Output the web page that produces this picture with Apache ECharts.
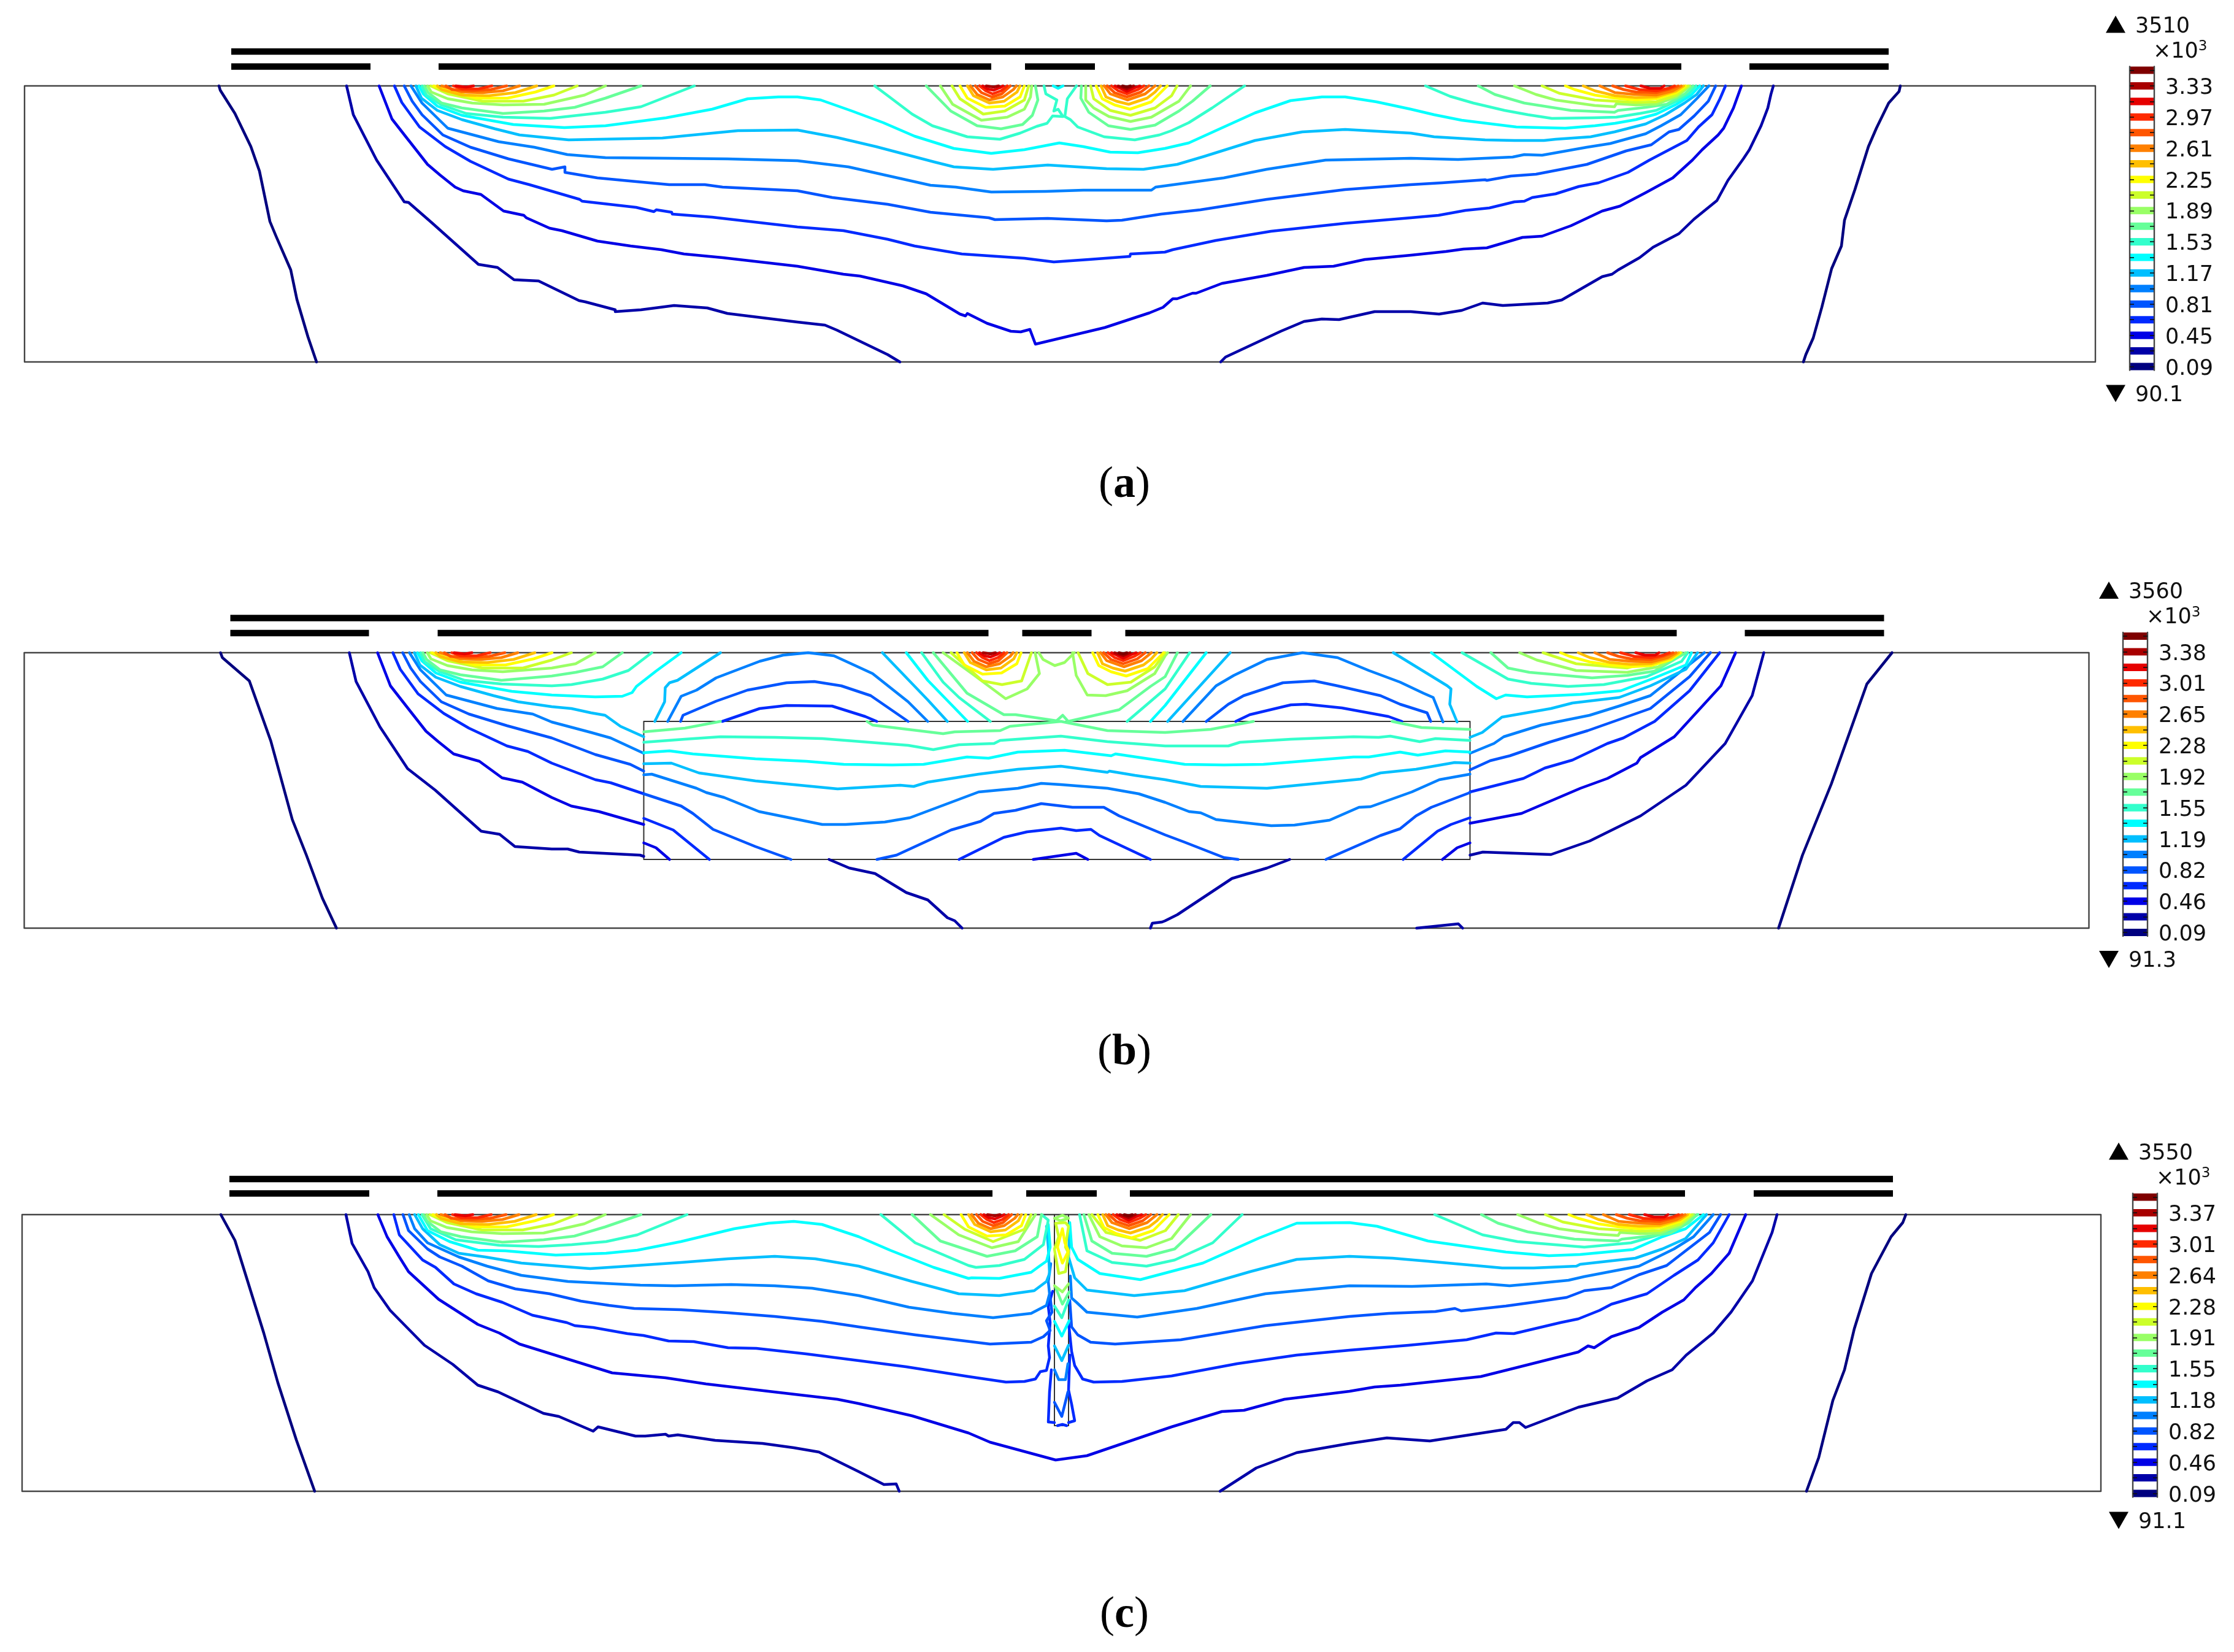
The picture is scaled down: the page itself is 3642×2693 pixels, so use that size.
<!DOCTYPE html>
<html>
<head>
<meta charset="utf-8">
<style>html,body{margin:0;background:#fff}#chart{width:3642px;height:2693px}</style>
<script src="https://cdn.jsdelivr.net/npm/echarts@6/dist/echarts.min.js"></script>
</head>
<body>
<div id="chart"></div>
<script>
// level 1 is the lowest contour (0.09), level 20 the highest
const levelColours = ['#00007f','#0000a8','#0000e6','#002aff','#0055ff','#0080ff','#00bfff','#00ffff','#33ffcc','#66ff99',
  '#99ff66','#ccff2a','#ffff00','#ffbf00','#ff8000','#ff5500','#ff2a00','#e60000','#a80000','#7f0000'];
const levels = [1,2,3,4,5,6,7,8,9,10,11,12,13,14,15,16,17,18,19,20];
const tickLevels = [1,3,5,7,9,11,13,15,17,19];
const ticksA = ['0.09','0.45','0.81','1.17','1.53','1.89','2.25','2.61','2.97','3.33'];
const ticksB = ['0.09','0.46','0.82','1.19','1.55','1.92','2.28','2.65','3.01','3.38'];
const ticksC = ['0.09','0.46','0.82','1.18','1.55','1.91','2.28','2.64','3.01','3.37'];

// electrodes: [x from, x to, depth]
const electrodesA = [[337,3039,-56],[337,564,-31.5],[675,1576,-31.5],[1631,1745,-31.5],[1800,2701,-31.5],[2812,3039,-31.5]];
const electrodesB = [[336,3032,-56.5],[336,562,-32],[674,1572,-32],[1627,1740,-32],[1795,2694,-32],[2805,3032,-32]];
const electrodesC = [[338,3050,-58],[338,566,-34.5],[677,1582,-34.5],[1637,1752,-34.5],[1806,2711,-34.5],[2823,3050,-34.5]];

// hot lobes under the electrode edges, same in all three panels: [level, x,depth,...]
const lobesHot = [
  [13,[667,0,690,8,737,20,787,20,833,10,863,0]],
  [14,[673,0,680,6,713,15,757,16,800,11,835,0]],
  [15,[680,0,713,10,747,11,780,8,807,0]],
  [16,[687,0,697,6,730,8,760,6,786,0]],
  [17,[699,0,713,5,740,5,762,0]],
  [18,[703,0,720,2,732,0]],
  [13,[1525,0,1537,20,1567,35,1598,33,1623,18,1630,0]],
  [14,[1537,0,1547,16,1573,28,1597,25,1618,10,1623,0]],
  [15,[1542,0,1553,14,1573,23,1595,18,1612,6,1617,0]],
  [16,[1550,0,1560,11,1577,18,1593,13,1607,0]],
  [17,[1557,0,1567,8,1578,13,1592,8,1602,0]],
  [18,[1562,0,1570,5,1580,7,1590,3,1595,0]],
  [19,[1568,0,1580,2,1588,0]],
  [13,[1747,0,1757,21,1777,31,1802,38,1837,26,1853,10,1863,0]],
  [14,[1755,0,1763,18,1780,25,1800,30,1830,20,1843,10,1852,0]],
  [15,[1760,0,1770,13,1798,23,1827,13,1843,0]],
  [16,[1765,0,1777,11,1797,18,1820,10,1833,0]],
  [17,[1772,0,1783,8,1797,13,1815,6,1825,0]],
  [18,[1778,0,1797,9,1810,3,1818,0]],
  [19,[1783,0,1797,5,1808,0]],
  [20,[1790,0,1797,2,1803,0]],
  [13,[2512,0,2527,6,2560,15,2593,20,2627,23,2660,21,2693,11,2708,0]],
  [14,[2541,0,2560,8,2593,16,2627,19,2660,18,2693,8,2705,0]],
  [15,[2568,0,2593,11,2627,14,2660,15,2687,8,2701,0]],
  [16,[2589,0,2607,6,2627,10,2660,11,2683,5,2696,0]],
  [17,[2610,0,2633,6,2660,8,2680,4,2690,0]],
  [18,[2635,0,2650,4,2667,4,2673,0]]
];
// outer side lobes, panels a and c
const lobesSide = [
  [10,[652,0,658,11,680,28,713,36,780,45,847,41,897,35,947,20,1005,0]],
  [11,[657,0,663,10,690,21,730,28,780,31,847,30,913,15,947,0]],
  [12,[662,0,690,13,747,25,813,25,863,15,901,0]],
  [10,[2370,0,2397,14,2445,28,2521,40,2592,43,2598,40,2643,35,2677,30,2707,13,2720,0]],
  [11,[2429,0,2464,14,2496,23,2560,32,2592,34,2595,29,2627,31,2660,30,2693,18,2715,0]],
  [12,[2474,0,2502,12,2560,23,2592,25,2627,27,2660,26,2693,15,2712,0]]
];

const contoursA = [
  [1,[317,0,319,7,343,45,369,99,383,139,400,221,410,245,434,300,444,348,462,409,476,450]],
  [1,[3058,0,3056,9,3039,28,3019,69,3006,99,2984,169,2967,219,2962,261,2946,298,2930,361,2916,411,2904,438,2900,450]],
  [2,[525,0,536,47,574,121,619,189,626,190,665,224,740,291,771,296,798,316,838,318,904,350,914,352,963,365,963,368,1005,365,1059,358,1113,362,1146,371,1260,385,1305,390,1324,398,1407,438,1427,450]],
  [2,[1950,450,1958,442,2048,400,2086,384,2115,380,2143,381,2201,368,2260,368,2306,372,2343,366,2377,354,2410,358,2483,354,2506,349,2572,311,2588,307,2598,300,2633,280,2655,263,2697,241,2722,217,2759,187,2777,154,2802,119,2812,104,2831,65,2842,36,2847,14,2851,0]],
  [3,[578,0,599,54,624,86,628,91,657,128,677,145,702,165,715,171,744,177,781,204,814,211,818,215,856,232,876,236,934,253,988,261,1038,267,1075,274,1138,280,1260,294,1335,307,1362,310,1432,326,1470,339,1525,372,1534,375,1537,371,1569,387,1608,400,1624,401,1639,397,1648,421,1761,394,1834,370,1856,361,1872,347,1879,347,1904,338,1910,338,1952,322,2025,309,2086,296,2134,294,2185,283,2260,276,2317,270,2346,266,2384,264,2442,247,2474,245,2521,228,2572,204,2601,196,2643,174,2687,150,2719,121,2735,104,2761,80,2770,69,2786,36,2799,0]],
  [4,[603,0,615,27,644,67,686,99,727,123,789,152,823,161,905,185,909,188,997,198,1026,205,1030,202,1055,206,1056,209,1121,214,1260,230,1335,236,1407,250,1451,261,1528,274,1630,281,1678,287,1735,283,1802,278,1803,274,1859,271,1872,267,1942,252,2032,237,2153,224,2260,215,2305,211,2349,203,2388,199,2429,189,2445,188,2458,182,2496,176,2534,164,2566,158,2614,141,2649,121,2668,111,2710,89,2729,67,2751,47,2764,21,2773,0]],
  [5,[619,0,632,25,648,47,682,80,727,100,789,119,860,136,881,132,881,141,934,150,997,156,1051,161,1109,161,1138,165,1260,171,1317,182,1407,193,1477,206,1572,215,1582,218,1668,216,1764,220,1789,219,1853,209,1917,202,2025,185,2153,169,2260,161,2311,158,2381,153,2384,154,2423,147,2464,144,2547,128,2611,106,2652,96,2681,75,2697,71,2722,49,2745,25,2757,0]],
  [6,[630,0,648,28,690,69,773,91,831,100,885,112,947,117,1051,118,1146,119,1260,122,1343,132,1477,162,1518,165,1576,173,1665,172,1726,170,1837,170,1844,165,1955,150,2025,136,2121,121,2260,118,2337,120,2381,118,2426,116,2445,112,2474,113,2547,100,2585,94,2643,78,2668,65,2700,47,2726,21,2746,0]],
  [7,[638,0,647,20,673,40,713,55,767,70,807,80,887,88,1040,85,1080,81,1163,73,1260,72,1324,84,1388,99,1483,124,1515,132,1579,136,1668,129,1764,135,1824,136,1879,128,1923,115,2006,89,2083,75,2153,71,2260,77,2298,83,2381,88,2429,89,2477,89,2496,87,2553,83,2592,75,2643,62,2675,47,2706,28,2726,14,2737,0]],
  [8,[643,0,650,13,673,33,713,48,797,63,880,68,947,65,1046,52,1121,38,1179,21,1229,18,1260,18,1298,23,1349,41,1400,60,1451,82,1515,102,1576,110,1630,104,1687,93,1726,99,1770,108,1815,109,1859,102,1898,93,1942,73,2006,44,2064,24,2115,18,2153,18,2204,26,2260,38,2298,47,2343,56,2432,67,2512,69,2560,65,2593,61,2627,55,2660,46,2693,30,2717,15,2731,0]],
  [8,[1677,0,1685,4,1693,0]],
  [9,[648,0,655,15,680,31,720,45,780,51,857,53,947,43,1005,34,1092,0]],
  [9,[1386,0,1410,18,1447,46,1480,65,1537,83,1590,87,1623,77,1650,66,1667,61,1676,49,1693,50,1685,38,1678,41,1683,23,1665,13,1662,0]],
  [9,[1715,0,1700,21,1696,50,1705,55,1717,67,1760,83,1810,88,1850,80,1870,73,1898,60,1936,36,1989,0]],
  [9,[2284,0,2324,17,2362,28,2413,40,2451,47,2490,53,2557,52,2595,51,2633,45,2660,40,2693,25,2713,13,2725,0]],
  [10,[1470,0,1510,41,1553,65,1592,70,1627,63,1643,48,1652,23,1648,0]],
  [10,[1723,0,1722,20,1735,43,1767,65,1803,71,1843,64,1882,41,1904,25,1933,0]],
  [11,[1493,0,1513,30,1560,56,1602,51,1630,38,1640,18,1642,0]],
  [11,[1730,0,1730,23,1743,36,1768,50,1803,58,1837,51,1882,25,1901,0]],
  [12,[1512,0,1525,21,1563,46,1598,41,1630,23,1637,0]],
  [12,[1738,0,1743,21,1770,40,1803,48,1843,36,1870,16,1879,0]]
];

const insetB = [1010,112,2357,337];
const contoursB = [
  [1,[320,0,323,8,367,46,402,144,437,272,460,330,486,400,509,449]],
  [1,[3045,0,3004,51,2946,214,2899,330,2860,449]],
  [2,[530,0,541,47,580,121,625,189,670,224,745,291,775,296,800,316,860,320,886,320,905,325,1004,330,1010,332]],
  [2,[2357,330,2378,325,2489,329,2552,307,2635,266,2709,216,2773,148,2817,70,2836,0]],
  [2,[1312,337,1345,351,1387,360,1438,391,1473,403,1505,432,1517,437,1529,449]],
  [2,[1836,449,1839,441,1855,439,1860,437,1880,427,1969,368,2026,351,2063,337]],
  [2,[2270,449,2338,442,2345,449]],
  [3,[576,0,597,54,622,86,655,128,675,145,700,165,742,177,779,204,812,211,860,236,892,250,937,259,1010,280]],
  [3,[1010,310,1030,318,1052,337]],
  [3,[1645,337,1715,327,1734,337]],
  [3,[2312,337,2336,318,2357,310]],
  [3,[2357,278,2441,262,2537,221,2581,205,2629,180,2635,171,2690,137,2766,54,2790,0]],
  [4,[601,0,613,27,642,67,684,99,725,123,787,152,821,161,860,180,931,207,956,212,1010,230]],
  [4,[1010,270,1058,289,1117,337]],
  [4,[1524,337,1597,301,1635,292,1690,286,1715,290,1739,288,1753,298,1836,337]],
  [4,[2248,337,2304,291,2326,280,2357,269]],
  [4,[2357,227,2444,205,2479,188,2524,175,2581,148,2607,139,2658,112,2715,62,2764,0]],
  [4,[1138,112,1199,91,1243,86,1317,87,1371,104,1390,112]],
  [4,[1975,112,1998,101,2065,85,2090,84,2148,90,2224,104,2246,112]],
  [5,[617,0,630,25,646,47,680,80,725,100,787,119,860,139,931,166,988,182,1010,193]],
  [5,[1010,230,1071,250,1090,262,1123,288,1192,316,1250,337]],
  [5,[1390,337,1422,330,1511,289,1559,275,1581,262,1616,257,1658,246,1709,252,1760,252,1785,266,1860,297,1892,309,1956,334,1979,337]],
  [5,[2122,337,2211,298,2243,287,2269,266,2294,252,2357,228]],
  [5,[2357,191,2390,176,2422,168,2486,146,2549,127,2600,109,2651,91,2715,39,2749,0]],
  [5,[1070,112,1074,102,1128,79,1179,61,1243,49,1288,47,1332,54,1380,70,1441,112]],
  [5,[1927,112,1963,84,1988,70,2052,49,2103,46,2141,54,2211,70,2243,84,2287,98,2293,112]],
  [6,[628,0,646,28,688,69,771,91,829,100,860,113,924,130,956,139,1010,164]],
  [6,[1010,199,1023,198,1096,221,1112,228,1141,236,1198,259,1301,280,1339,280,1403,276,1444,269,1556,227,1620,221,1658,213,1690,215,1766,221,1817,230,1860,244,1899,259,1918,261,1943,272,2033,282,2071,281,2128,273,2176,252,2195,251,2262,227,2307,207,2357,198]],
  [6,[2357,164,2396,148,2412,137,2473,118,2552,102,2600,87,2651,70,2739,0]],
  [6,[1049,112,1071,71,1096,61,1128,41,1199,14,1237,4,1278,0,1320,5,1383,34,1441,80,1473,112]],
  [6,[1889,112,1943,54,1972,37,2026,11,2084,0,2141,8,2192,29,2243,48,2281,66,2297,73,2313,113]],
  [7,[636,0,645,20,671,40,711,55,765,70,805,80,860,88,892,91,924,98,947,102,972,120,1010,137]],
  [7,[1010,181,1055,180,1100,196,1192,209,1326,222,1428,216,1450,218,1473,211,1556,198,1620,190,1690,185,1766,195,1769,193,1811,200,1860,207,1918,218,2026,221,2179,206,2211,196,2269,190,2332,179,2357,180]],
  [7,[1028,112,1044,80,1045,57,1052,49,1065,45,1135,0]],
  [7,[1399,0,1473,77,1505,112]],
  [7,[1864,112,1966,0]],
  [7,[2232,0,2320,54,2326,59,2324,84,2336,113]],
  [7,[2357,138,2377,130,2409,105,2489,91,2524,82,2600,73,2651,54,2709,27,2728,0]],
  [8,[641,0,648,13,671,33,711,48,795,63,860,69,931,72,975,71,991,65,998,55,1030,30,1071,0]],
  [8,[1438,0,1473,45,1538,112]],
  [8,[1836,112,1860,86,1927,0]],
  [8,[2294,0,2368,55,2400,75,2415,69,2450,72,2537,68,2603,62,2658,41,2709,20,2718,0]],
  [8,[1010,163,1052,160,1090,165,1192,173,1275,177,1336,182,1415,183,1466,182,1537,170,1572,172,1620,162,1696,159,1772,168,1779,165,1860,177,1892,182,1956,183,2020,182,2167,170,2192,170,2243,162,2272,167,2317,160,2357,162]],
  [9,[646,0,653,15,678,31,718,45,778,51,860,54,892,52,943,43,985,29,1023,0]],
  [9,[1463,0,1498,48,1524,73,1575,112]],
  [9,[1798,112,1860,59,1900,0]],
  [9,[2344,0,2419,43,2457,50,2517,55,2575,52,2645,39,2702,14,2712,0]],
  [9,[1010,146,1077,141,1135,137,1224,138,1301,140,1441,151,1482,158,1524,150,1581,148,1591,143,1690,136,1766,145,1860,152,1963,152,1982,146,2065,141,2167,137,2208,138,2227,136,2275,145,2301,140,2357,143]],
  [10,[650,0,656,11,678,28,711,36,778,45,860,38,899,32,943,23,975,0]],
  [10,[1482,0,1537,66,1597,101,1616,101,1683,111,1693,102,1702,112,1785,93,1836,55,1860,39,1880,0]],
  [10,[2391,0,2419,25,2454,32,2556,41,2613,37,2658,30,2709,0]],
  [10,[1010,129,1077,123,1135,112]],
  [10,[1374,112,1383,118,1498,132,1517,129,1591,127,1607,120,1690,112,1766,127,1860,130,1934,125,2004,112]],
  [10,[2230,112,2278,122,2357,125]],
  [11,[657,0,663,10,690,21,730,28,780,31,860,25,899,18,931,0]],
  [11,[1498,0,1549,37,1600,75,1635,59,1655,34,1648,0]],
  [11,[1654,0,1661,11,1680,21,1696,16,1712,0]],
  [11,[1709,0,1715,37,1733,69,1763,70,1798,62,1843,34,1860,5,1864,0]],
  [11,[2438,0,2466,12,2530,29,2613,32,2664,23,2702,0]],
  [12,[662,0,690,13,747,25,813,25,860,12,892,0]],
  [12,[1511,0,1562,46,1594,52,1626,46,1642,0]],
  [12,[1718,0,1734,34,1766,52,1804,48,1843,23,1860,0]],
  [12,[2476,0,2530,18,2613,25,2690,2]]
];

const slitC = [1683,1706,344];
const contoursC = [
  [1,[324,0,347,42,394,193,417,274,447,367,477,451]],
  [1,[3071,0,3066,13,3047,36,3015,96,2987,186,2971,253,2952,303,2929,396,2909,451]],
  [2,[528,0,538,47,564,93,574,119,600,156,656,213,702,244,743,278,776,289,850,324,875,329,931,353,939,346,1000,361,1016,361,1049,358,1054,361,1069,359,1130,368,1207,373,1258,380,1299,387,1364,419,1405,440,1425,439,1430,451]],
  [2,[1953,451,2012,413,2078,388,2164,373,2225,364,2295,369,2419,350,2431,339,2441,339,2451,347,2537,314,2601,299,2649,271,2690,253,2713,229,2757,193,2786,159,2821,108,2853,29,2861,0]],
  [3,[580,0,595,36,615,69,630,93,679,138,743,179,778,193,811,211,962,258,1049,266,1115,276,1217,288,1329,301,1364,308,1451,328,1543,356,1578,371,1685,400,1736,393,1874,346,1956,321,1992,319,2058,301,2164,288,2205,281,2247,278,2378,264,2438,249,2537,224,2553,214,2563,217,2591,199,2636,184,2674,159,2709,139,2728,119,2754,96,2783,63,2810,0]],
  [4,[606,0,615,33,653,74,674,86,704,113,740,129,783,143,832,164,888,176,901,181,931,184,987,194,1013,197,1054,206,1095,207,1151,217,1197,218,1278,227,1364,238,1441,248,1543,264,1604,273,1634,272,1652,268,1660,256,1670,254,1675,233,1673,214,1676,176,1673,150,1680,125]],
  [4,[1678,253,1675,289,1673,338,1683,339]],
  [4,[1706,339,1716,336,1711,309,1706,286,1708,229]],
  [4,[1688,344,1696,342,1703,344]],
  [4,[1706,176,1711,223,1716,246,1729,268,1747,273,1793,272,1874,263,1981,243,2078,229,2164,221,2260,213,2355,204,2403,193,2432,194,2508,176,2537,170,2572,156,2591,146,2649,129,2693,99,2732,74,2757,46,2783,0]],
  [5,[621,0,630,26,661,56,681,69,717,84,760,108,804,121,860,129,911,141,957,148,998,153,1074,155,1151,160,1227,166,1304,174,1364,183,1456,196,1578,211,1645,208,1665,199,1676,189,1670,173,1679,159,1676,135]],
  [5,[1708,140,1711,183,1721,196,1742,208,1782,211,1889,204,2027,181,2164,166,2228,161,2304,158,2336,153,2346,157,2419,149,2470,142,2518,135,2547,124,2591,119,2636,98,2681,83,2712,59,2751,29,2769,0]],
  [5,[1683,306,1695,329,1705,289]],
  [6,[631,0,640,23,661,46,712,69,758,84,814,99,890,109,1008,115,1064,116,1156,114,1227,116,1288,120,1364,132,1446,151,1517,161,1583,168,1645,161,1670,148,1675,129,1673,109,1677,80]],
  [6,[1709,100,1711,136,1719,143,1736,159,1818,167,1915,153,2027,129,2164,116,2266,117,2387,113,2425,116,2470,112,2521,107,2547,101,2636,84,2693,56,2725,36,2757,0]],
  [6,[1683,253,1690,269,1701,269,1705,243]],
  [7,[640,0,653,23,681,49,712,63,755,69,814,79,875,84,926,88,987,84,1074,78,1151,72,1227,68,1293,72,1364,84,1451,109,1527,129,1593,132,1650,124,1670,109,1675,96,1673,53,1670,19]],
  [7,[1708,20,1706,69,1716,103,1736,123,1813,132,1895,124,2002,93,2078,73,2164,68,2234,71,2292,76,2413,87,2464,87,2534,84,2540,81,2630,71,2674,56,2712,39,2746,0]],
  [7,[1683,214,1695,238,1706,213]],
  [8,[646,0,661,26,697,44,743,58,788,59,870,66,952,63,1003,58,1074,44,1161,23,1217,14,1258,11,1304,16,1364,36,1415,58,1486,86,1543,104,1548,103,1593,104,1645,94,1660,83,1670,76,1676,53,1673,16]],
  [8,[1708,13,1711,53,1721,73,1757,96,1823,106,1925,79,2017,38,2078,14,2164,13,2209,19,2292,43,2419,61,2489,67,2540,65,2626,57,2674,36,2712,23,2741,0]],
  [8,[1683,174,1695,198,1707,173]],
  [9,[652,0,666,23,707,41,778,50,842,52,896,49,952,44,1003,33,1084,0]],
  [9,[1400,0,1456,46,1543,83,1555,86,1593,83,1634,73,1665,49,1673,9,1662,0]],
  [9,[1724,0,1736,59,1777,78,1833,84,1879,74,1941,46,1989,0]],
  [9,[2303,0,2381,33,2438,44,2547,53,2623,46,2693,26,2732,0]],
  [9,[1683,149,1695,168,1706,139]],
  [10,[1451,0,1497,43,1573,68,1619,59,1655,36,1662,0]],
  [10,[1731,0,1744,43,1777,63,1833,68,1879,56,1938,0]],
  [10,[1685,119,1696,146,1707,126]],
  [11,[1481,0,1527,33,1581,54,1624,44,1652,0]],
  [11,[1739,0,1757,36,1793,51,1833,54,1874,39,1905,0]],
  [11,[1683,116,1696,126,1706,113]],
  [11,[1683,6,1693,10,1706,6,1696,1,1683,6]],
  [12,[1503,0,1537,24,1583,44,1634,24,1645,0]],
  [12,[1744,0,1767,29,1823,42,1864,26,1885,0]],
  [12,[1685,14,1701,13,1706,19,1701,53,1706,63,1701,93,1690,96,1685,69,1683,56,1690,36,1685,14]],
  [13,[1696,23,1700,46,1706,59,1696,79,1688,53,1696,23]]
];

const commonWidth = 3376;
const panels = [
  {left:40, top:140, w:3376, h:450, contours:[contoursA, lobesSide], electrodes:electrodesA, ticks:ticksA, barLeft:3472, barTop:108.5, max:'3510', min:'90.1', caption:'a', capY:791},
  {left:39.5, top:1064, w:3366, h:449, contours:[contoursB], electrodes:electrodesB, ticks:ticksB, barLeft:3461, barTop:1031, max:'3560', min:'91.3', caption:'b', capY:1716},
  {left:36, top:1980, w:3389, h:451, contours:[contoursC, lobesSide], electrodes:electrodesC, ticks:ticksC, barLeft:3477, barTop:1945.5, max:'3550', min:'91.1', caption:'c', capY:2633}
];

const pairs = flat => {
  const out = [];
  for (let i = 0; i < flat.length; i += 2) out.push([flat[i], flat[i + 1]]);
  return out;
};

const grid = [], xAxis = [], yAxis = [], series = [], graphic = [];
const txt = (x, y, text, size) => ({type:'text', x, y, style:{text, x:0, y:0, fill:'#111', font:size + 'px "DejaVu Sans"', textVerticalAlign:'middle'}});
const tri = (cx, cy, up) => ({type:'polygon', shape:{points: up
  ? [[cx - 16, cy + 14], [cx + 16, cy + 14], [cx, cy - 14]]
  : [[cx - 16, cy - 14], [cx + 16, cy - 14], [cx, cy + 14]]}, style:{fill:'#000'}});

panels.forEach((p, i) => {
  // contour panel, the grid reaches up to the electrodes
  const headroom = 70;
  grid.push({left:p.left, top:p.top - headroom, width:p.w, height:p.h + headroom});
  const g = grid.length - 1;
  xAxis.push({gridIndex:g, type:'value', min:0, max:p.w, show:false});
  const own = xAxis.length - 1;
  xAxis.push({gridIndex:g, type:'value', min:0, max:commonWidth, show:false});
  yAxis.push({gridIndex:g, type:'value', min:-headroom, max:p.h, inverse:true, show:false});
  const ya = yAxis.length - 1;

  const line = (data, axis, style, z) => series.push({type:'line', xAxisIndex:axis, yAxisIndex:ya, data, symbol:'none', clip:false,
    silent:true, animation:false, z, lineStyle:Object.assign({join:'round', cap:'round'}, style)});

  line([[0,0],[p.w,0],[p.w,p.h],[0,p.h],[0,0]], own, {color:'#444', width:2.4}, 2);
  if (i === 1) {
    const [a, b, c, d] = insetB;
    line([[a,b],[c,b],[c,d],[a,d],[a,b]], own, {color:'#333', width:2}, 2);
  }
  if (i === 2) {
    const [a, b, d] = slitC;
    line([[a,0],[a,d],[b,d],[b,0]], own, {color:'#333', width:2}, 2);
  }
  p.electrodes.forEach(e => line([[e[0],e[2]],[e[1],e[2]]], own, {color:'#000', width:10.5, cap:'butt'}, 3));

  p.contours.forEach(set => {
    // lobesSide is in common units, the panel's own tracing in panel units
    const axis = set === lobesSide ? own + 1 : own;
    set.forEach(c => line(pairs(c[1]), axis, {color:levelColours[c[0] - 1], width:4.5}, 4 + c[0] / 100));
  });
  lobesHot.forEach(c => line(pairs(c[1]), own + 1, {color:levelColours[c[0] - 1], width:4.5}, 4 + c[0] / 100));

  // colour legend
  const half = 0.237;
  grid.push({left:p.barLeft, top:p.barTop, width:40, height:495});
  const gb = grid.length - 1;
  xAxis.push({gridIndex:gb, type:'value', min:0, max:1, show:false});
  const xb = xAxis.length - 1;
  const tickStyle = {customValues:levels, inside:true, length:7, lineStyle:{color:'#111', width:1.6}};
  const barLine = {show:true, onZero:false, lineStyle:{color:'#444', width:2.4}};
  yAxis.push({gridIndex:gb, type:'value', min:1 - half, max:20 + half, position:'left', z:6, splitLine:{show:false},
    axisLine:barLine, axisTick:Object.assign({show:true}, tickStyle), axisLabel:{show:false}});
  const yb = yAxis.length - 1;
  yAxis.push({gridIndex:gb, type:'value', min:1 - half, max:20 + half, position:'right', z:6, splitLine:{show:false},
    axisLine:barLine, axisTick:Object.assign({show:true}, tickStyle), axisLabel:{show:false}});
  // labels sit a little below their bands in the original, so they get their own slightly shifted axis
  const labelShift = 0.16;
  yAxis.push({gridIndex:gb, type:'value', min:1 - half + labelShift, max:20 + half + labelShift, position:'right', splitLine:{show:false},
    axisLine:{show:false}, axisTick:{show:false},
    axisLabel:{show:true, customValues:tickLevels, margin:18, color:'#111', fontFamily:'DejaVu Sans', fontSize:35,
      formatter:v => p.ticks[tickLevels.indexOf(v)]}});
  series.push({type:'custom', xAxisIndex:xb, yAxisIndex:yb, silent:true, animation:false, z:2,
    data:levels.map(l => [0.5, l]), encode:{x:0, y:1},
    renderItem:(params, api) => {
      const lev = api.value(1);
      const a = api.coord([0, lev + half]), b = api.coord([1, lev - half]);
      return {type:'rect', shape:{x:a[0], y:a[1], width:b[0] - a[0], height:b[1] - a[1]}, style:{fill:levelColours[lev - 1]}};
    }});

  graphic.push(tri(p.barLeft - 23, p.barTop - 69, true));
  graphic.push(txt(p.barLeft + 9, p.barTop - 65, p.max, 35));
  graphic.push({type:'text', x:p.barLeft + 38, y:p.barTop - 24, style:{
    text:'×10{s|3}', fill:'#111', font:'35px "DejaVu Sans"', textVerticalAlign:'middle',
    rich:{s:{fontFamily:'DejaVu Sans', fontSize:23, verticalAlign:'top', padding:[0,0,16,0], fill:'#111'}}}});
  graphic.push(tri(p.barLeft - 23, p.barTop + 495 + 38, false));
  graphic.push(txt(p.barLeft + 9, p.barTop + 495 + 41, p.min, 35));

  // sub figure caption
  graphic.push({type:'text', x:1833, y:p.capY, style:{
    text:'({b|' + p.caption + '})', textAlign:'center', textVerticalAlign:'middle', fill:'#000',
    font:'72px "Liberation Serif"',
    rich:{b:{fontFamily:'Liberation Serif', fontWeight:'bold', fontSize:72, fill:'#000'}}}});
});

const chart = echarts.init(document.getElementById('chart'));
chart.setOption({backgroundColor:'#fff', animation:false, grid, xAxis, yAxis, series, graphic:{elements:graphic}});
</script>
</body>
</html>
